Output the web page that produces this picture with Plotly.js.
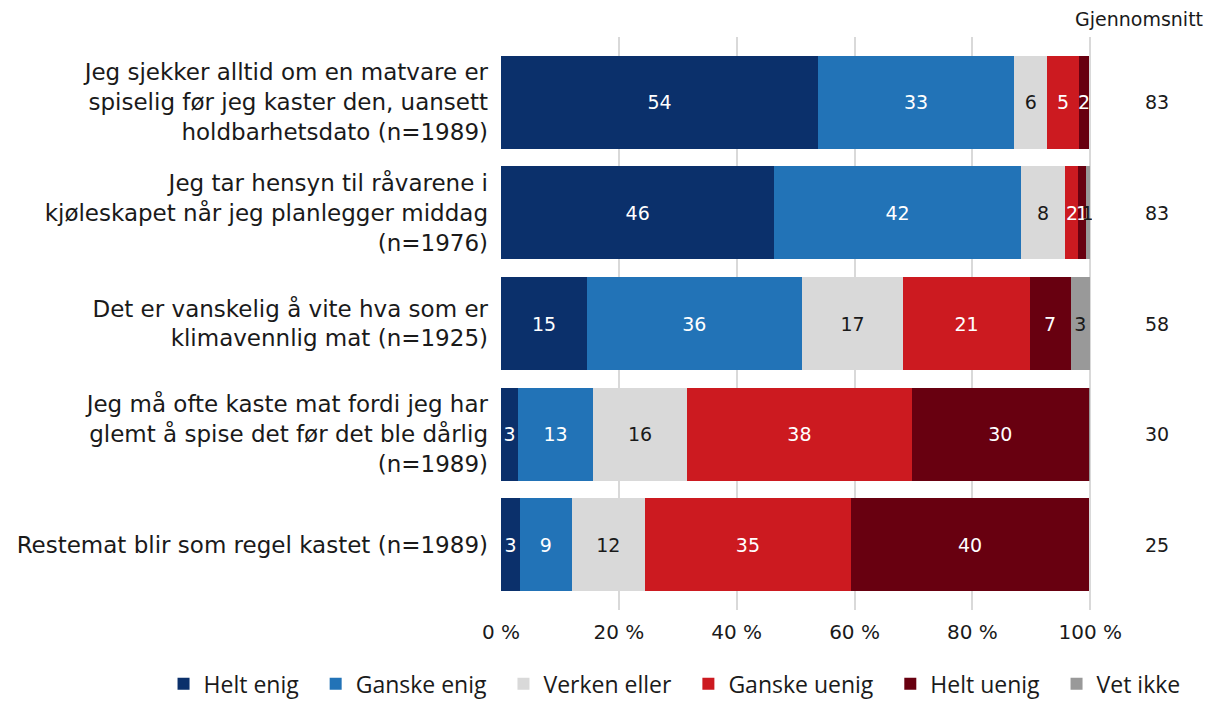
<!DOCTYPE html>
<html>
<head>
<meta charset="utf-8">
<script src="https://cdn.plot.ly/plotly-3.0.1.min.js"></script>
<style>html,body{margin:0;padding:0;background:#fff;}#chart{width:1213px;height:702px;}</style>
</head>
<body>
<div id="chart"></div>
<script>
const categories = [
  "Jeg sjekker alltid om en matvare er<br>spiselig før jeg kaster den, uansett<br>holdbarhetsdato (n=1989)",
  "Jeg tar hensyn til råvarene i<br>kjøleskapet når jeg planlegger middag<br>(n=1976)",
  "Det er vanskelig å vite hva som er<br>klimavennlig mat (n=1925)",
  "Jeg må ofte kaste mat fordi jeg har<br>glemt å spise det før det ble dårlig<br>(n=1989)",
  "Restemat blir som regel kastet (n=1989)"
];
const seriesNames = ["Helt enig", "Ganske enig", "Verken eller", "Ganske uenig", "Helt uenig", "Vet ikke"];
const heltEnig    = [53.8, 46.4, 14.6, 2.9, 3.2];
const ganskeEnig  = [33.3, 41.8, 36.4, 12.7, 8.8];
const verkenEller = [5.6, 7.6, 17.3, 16.0, 12.4];
const ganskeUenig = [5.4, 2.2, 21.4, 38.1, 35.0];
const heltUenig   = [1.7, 1.2, 7.0, 30.1, 40.4];
const vetIkke     = [0.0, 0.7, 3.2, 0.2, 0.0];
const gjennomsnitt = [83, 83, 58, 30, 25];
const tickVals = [0, 20, 40, 60, 80, 100];
const tickText = ["0 %", "20 %", "40 %", "60 %", "80 %", "100 %"];

const colors = ["#0b306b", "#2273b7", "#d9d9d9", "#cc1a20", "#680010", "#999999"];
const textColors = ["#ffffff", "#ffffff", "#1a1a1a", "#ffffff", "#ffffff", "#1a1a1a"];
const allSeries = [heltEnig, ganskeEnig, verkenEller, ganskeUenig, heltUenig, vetIkke];
const FONT = "'DejaVu Sans', sans-serif";
const LEGEND_FONT = "'Open Sans', sans-serif";
const PAD = "\u00a0\u00a0";

const traces = allSeries.map((vals, i) => ({
  type: "bar",
  orientation: "h",
  name: seriesNames[i] + PAD,
  y: categories,
  x: vals,
  width: 0.84,
  marker: { color: colors[i], line: { width: 0 } },
  text: vals.map(v => v >= 0.5 ? String(Math.round(v)) : ""),
  textposition: "inside",
  insidetextanchor: "middle",
  textangle: 0,
  constraintext: "none",
  insidetextfont: { color: textColors[i], size: 19, family: FONT },
  hoverinfo: "skip"
}));

const annotations = categories.map((c, i) => ({
  xref: "paper", yref: "y", x: 1.11, y: c,
  text: String(gjennomsnitt[i]), showarrow: false,
  font: { size: 19, color: "#1a1a1a", family: FONT },
  xanchor: "center", yanchor: "middle"
}));
annotations.push({
  xref: "paper", yref: "paper", x: 1.0, y: 1.0, yshift: 5,
  text: "Gjennomsnitt", showarrow: false,
  font: { size: 19, color: "#1a1a1a", family: FONT },
  xanchor: "left", yanchor: "bottom", xshift: -19
});

const layout = {
  width: 1213, height: 702,
  margin: { l: 501, r: 121, t: 37, b: 92, autoexpand: false },
  barmode: "stack",
  paper_bgcolor: "#fff", plot_bgcolor: "#fff",
  font: { family: FONT, color: "#1a1a1a" },
  uniformtext: { mode: "show", minsize: 19 },
  xaxis: {
    range: [0, 100.3],
    tickvals: tickVals, ticktext: tickText,
    showgrid: true, gridcolor: "#d9d9d9", gridwidth: 2,
    zeroline: false, showline: false, ticks: "",
    ticklabelstandoff: 8,
    tickfont: { size: 20, color: "#1a1a1a", family: FONT },
    fixedrange: true
  },
  yaxis: {
    type: "category",
    categoryorder: "array", categoryarray: categories,
    range: [4.59, -0.59],
    showgrid: false, zeroline: false, showline: false, ticks: "",
    ticklabelstandoff: 12,
    tickfont: { size: 23, color: "#1a1a1a", family: FONT },
    fixedrange: true
  },
  legend: {
    orientation: "h",
    x: -0.571, xanchor: "left", y: -0.129, yanchor: "middle",
    font: { size: 23, color: "#1a1a1a", family: LEGEND_FONT },
    traceorder: "normal", itemwidth: 30
  },
  showlegend: true,
  annotations: annotations
};

Plotly.newPlot("chart", traces, layout, { displayModeBar: false, staticPlot: true });
</script>
</body>
</html>
